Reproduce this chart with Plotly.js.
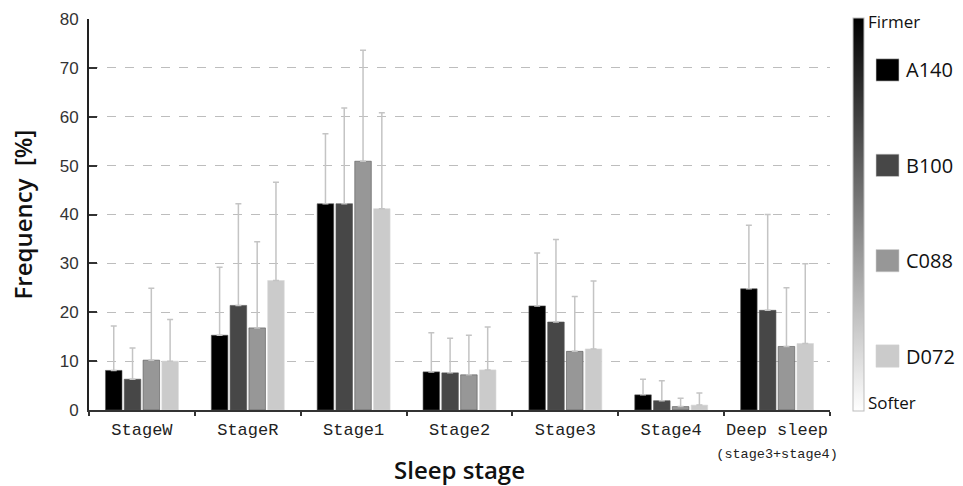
<!DOCTYPE html>
<html>
<head>
<meta charset="utf-8">
<script src="https://cdn.plot.ly/plotly-3.0.1.min.js"></script>
<style>html,body{margin:0;padding:0;background:#fff;}#chart{width:963px;height:486px;}</style>
</head>
<body>
<div id="chart"></div>
<script>
// ---- data ----
var categories = ["StageW", "StageR", "Stage1", "Stage2", "Stage3", "Stage4", "Deep sleep<br><span style=\"font-size:13.5px\">(stage3+stage4)</span>"];
var seriesNames = ["A140", "B100", "C088", "D072"];
var seriesColors = ["#000000", "#474747", "#979797", "#cbcbcb"];
var meanA140 = [8.1, 15.3, 42.2, 7.8, 21.3, 3.1, 24.8];
var meanB100 = [6.3, 21.4, 42.2, 7.6, 18.0, 1.9, 20.4];
var meanC088 = [10.2, 16.8, 50.9, 7.2, 12.0, 0.7, 13.0];
var meanD072 = [10.0, 26.5, 41.2, 8.2, 12.5, 1.0, 13.6];
var sdA140 = [9.1, 13.9, 14.3, 8.0, 10.8, 3.2, 13.0];
var sdB100 = [6.4, 20.8, 19.6, 7.1, 16.9, 4.1, 19.6];
var sdC088 = [14.7, 17.6, 22.7, 8.1, 11.2, 1.7, 12.0];
var sdD072 = [8.5, 20.1, 19.6, 8.8, 13.9, 2.5, 16.3];
var yTicks = [0, 10, 20, 30, 40, 50, 60, 70, 80];
var scaleTop = "Firmer";
var scaleBottom = "Softer";

var means = [meanA140, meanB100, meanC088, meanD072];
var sds = [sdA140, sdB100, sdC088, sdD072];

var traces = seriesNames.map(function (name, i) {
  return {
    type: "bar",
    name: name,
    x: categories,
    y: means[i],
    marker: { color: seriesColors[i], line: { color: i === 3 ? "#d8d8d8" : "#555", width: 0.6 } },
    error_y: {
      type: "data", symmetric: false, array: sds[i],
      arrayminus: sds[i].map(function () { return 0; }),
      color: "#c4c4c4", thickness: 1.5, width: 3
    },
    showlegend: false,
    hoverinfo: "skip"
  };
});

// gradient scale bar (colorbar of an invisible trace)
traces.push({
  type: "scatter", mode: "markers", x: [null], y: [null], showlegend: false, hoverinfo: "skip",
  marker: {
    color: [0], cmin: 0, cmax: 1,
    colorscale: [[0, "#ffffff"], [1, "#000000"]],
    showscale: true,
    colorbar: {
      x: 1.031, xanchor: "left", xpad: 0,
      y: 0.499, yanchor: "middle", ypad: 0,
      thickness: 11, lenmode: "pixels", len: 393,
      outlinecolor: "#bdbdbd", outlinewidth: 1,
      showticklabels: false, ticks: ""
    }
  }
});

var shapes = [];
var annotations = [];
var legendTop = 0.8697, legendStep = 0.2439, half = 0.0285;
seriesNames.forEach(function (name, i) {
  var yc = legendTop - i * legendStep;
  shapes.push({
    type: "rect", xref: "paper", yref: "paper",
    x0: 1.0621, x1: 1.0931, y0: yc - half, y1: yc + half,
    fillcolor: seriesColors[i], line: { color: "#d0d0d0", width: 0.6 }
  });
  annotations.push({
    xref: "paper", yref: "paper", x: 1.1, y: yc, xanchor: "left", yanchor: "middle",
    text: name, showarrow: false,
    font: { family: "Open Sans, sans-serif", size: 20, color: "#111" }
  });
});
annotations.push({
  xref: "paper", yref: "paper", x: 1.048, y: 0.993, xanchor: "left", yanchor: "middle",
  text: scaleTop, showarrow: false, font: { family: "Open Sans, sans-serif", size: 17, color: "#111" }
});
annotations.push({
  xref: "paper", yref: "paper", x: 1.048, y: 0.02, xanchor: "left", yanchor: "middle",
  text: scaleBottom, showarrow: false, font: { family: "Open Sans, sans-serif", size: 17, color: "#111" }
});

var layout = {
  width: 963, height: 486,
  margin: { l: 89, r: 133, t: 18.5, b: 76, pad: 0 },
  paper_bgcolor: "#ffffff", plot_bgcolor: "#ffffff",
  barmode: "group", bargap: 0.29, bargroupgap: 0.12,
  showlegend: false,
  xaxis: {
    type: "category", tickangle: 0,
    showline: true, linecolor: "#333", linewidth: 2,
    ticks: "outside", tickson: "boundaries", ticklen: 4, tickwidth: 2, tickcolor: "#333",
    ticklabelstandoff: 3,
    showgrid: false, zeroline: false,
    tickfont: { family: "Liberation Mono, DejaVu Sans Mono, monospace", size: 17, color: "#222" },
    title: { text: "Sleep stage", font: { family: "Open Sans, sans-serif", size: 24, weight: 600, color: "#111" }, standoff: 9 }
  },
  yaxis: {
    range: [0, 80], tickvals: yTicks, ticktext: yTicks.map(String),
    showline: true, linecolor: "#222", linewidth: 2,
    ticks: "inside", ticklen: 8, tickwidth: 2, tickcolor: "#333",
    ticklabelstandoff: 5,
    showgrid: true, gridcolor: "#bdbdbd", griddash: "dash", gridwidth: 1,
    zeroline: false,
    tickfont: { family: "Liberation Sans, Arial, sans-serif", size: 17, color: "#333" },
    title: { text: "Frequency&nbsp;&nbsp;[%]", font: { family: "Open Sans, sans-serif", size: 24, weight: 600, color: "#111" }, standoff: 20 }
  },
  shapes: shapes,
  annotations: annotations,
  font: { family: "Open Sans, sans-serif" }
};

Plotly.newPlot("chart", traces, layout, { staticPlot: true, displayModeBar: false });
</script>
</body>
</html>
